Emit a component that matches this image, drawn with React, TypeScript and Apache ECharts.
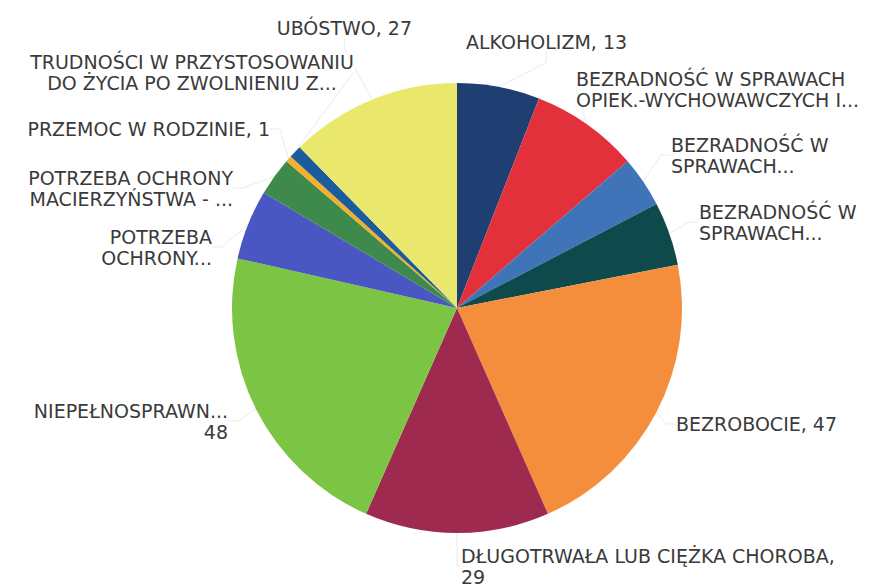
import React, { useEffect, useRef } from "react";
import * as echarts from "echarts";

const categories = [
  "ALKOHOLIZM",
  "BEZRADNOŚĆ W SPRAWACH OPIEK.-WYCHOWAWCZYCH I PROWADZENIA GOSPODARSTWA DOMOWEGO",
  "BEZRADNOŚĆ W SPRAWACH OPIEK.-WYCHOWAWCZYCH - RODZINA NIEPEŁNA",
  "BEZRADNOŚĆ W SPRAWACH OPIEK.-WYCHOWAWCZYCH - RODZINA WIELODZIETNA",
  "BEZROBOCIE",
  "DŁUGOTRWAŁA LUB CIĘŻKA CHOROBA",
  "NIEPEŁNOSPRAWNOŚĆ",
  "POTRZEBA OCHRONY MACIERZYŃSTWA",
  "POTRZEBA OCHRONY MACIERZYŃSTWA - WIELODZIETNOŚĆ",
  "PRZEMOC W RODZINIE",
  "TRUDNOŚCI W PRZYSTOSOWANIU DO ŻYCIA PO ZWOLNIENIU Z ZAKŁADU KARNEGO",
  "UBÓSTWO",
];

const values = [13, 17, 8, 10, 47, 29, 48, 11, 6, 1, 2, 27];

const labelTexts = [
  "ALKOHOLIZM, 13",
  "BEZRADNOŚĆ W SPRAWACH\nOPIEK.-WYCHOWAWCZYCH I...",
  "BEZRADNOŚĆ W\nSPRAWACH...",
  "BEZRADNOŚĆ W\nSPRAWACH...",
  "BEZROBOCIE, 47",
  "DŁUGOTRWAŁA LUB CIĘŻKA CHOROBA,\n29",
  "NIEPEŁNOSPRAWN...\n48",
  "POTRZEBA\nOCHRONY...",
  "POTRZEBA OCHRONY\nMACIERZYŃSTWA - ...",
  "PRZEMOC W RODZINIE, 1",
  "TRUDNOŚCI W PRZYSTOSOWANIU\nDO ŻYCIA PO ZWOLNIENIU Z...",
  "UBÓSTWO, 27",
];

const colors = [
  "#1f3f72",
  "#e2313b",
  "#3f74b8",
  "#0e4a4c",
  "#f58e3c",
  "#9f2a50",
  "#7cc444",
  "#4a56c2",
  "#3d8a4c",
  "#f3b02a",
  "#1a5c9c",
  "#e9e86c",
];

// label placement (x, y, align)
const labelLayoutPos: [number, number, string][] = [
  [466, 42, "left"],
  [576, 89, "left"],
  [671, 155, "left"],
  [699, 222, "left"],
  [676, 424, "left"],
  [461, 566, "left"],
  [228, 421, "right"],
  [212, 247, "right"],
  [233, 188, "right"],
  [270, 129, "right"],
  [192, 72, "center"],
  [412, 28, "right"],
];

export default function App() {
  const ref = useRef<HTMLDivElement>(null);
  useEffect(() => {
    document.body.style.margin = "0";
    const chart = echarts.init(ref.current!, null, { renderer: "svg" });
    chart.setOption({
      animation: false,
      backgroundColor: "#ffffff",
      series: [
        {
          type: "pie",
          center: [457, 308],
          radius: 225,
          startAngle: 90,
          clockwise: true,
          avoidLabelOverlap: false,
          data: categories.map((name, i) => ({
            name,
            value: values[i],
            itemStyle: { color: colors[i] },
            label: {
              formatter: labelTexts[i],
              align: labelLayoutPos[i][2],
            },
          })),
          label: {
            show: true,
            position: "outside",
            fontFamily: "DejaVu Sans",
            fontSize: 19,
            lineHeight: 21,
            color: "#3a3a3a",
          },
          labelLine: {
            show: true,
            length: 10,
            length2: 10,
            lineStyle: { color: "#ebebeb", width: 1 },
          },
          labelLayout: (params: any) => {
            const p = labelLayoutPos[params.dataIndex];
            return {
              x: p[0],
              y: p[1],
              align: p[2],
              verticalAlign: "middle",
            };
          },
        },
      ],
    });
    return () => chart.dispose();
  }, []);
  return <div ref={ref} style={{ width: 885, height: 587 }} />;
}
